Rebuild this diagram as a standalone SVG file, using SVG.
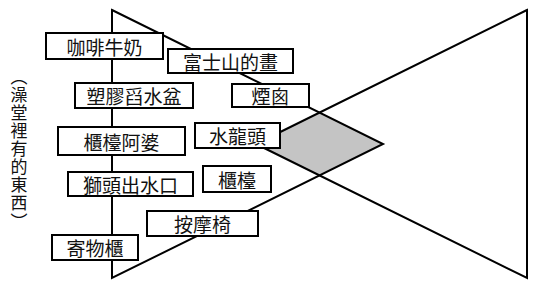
<svg xmlns="http://www.w3.org/2000/svg" width="536" height="292" viewBox="0 0 536 292">
<style>
.box{fill:#fff;stroke:#000;stroke-width:2}
.ln{fill:none;stroke:#000;stroke-width:2;stroke-linejoin:miter}
.t{font-family:"Noto Sans CJK TC","Noto Sans CJK SC",sans-serif;font-size:19px;fill:#111;text-anchor:middle;dominant-baseline:central}
.v{font-family:"Noto Sans CJK TC","Noto Sans CJK SC",sans-serif;font-size:17px;fill:#111;text-anchor:middle;dominant-baseline:central}
</style>
<rect width="536" height="292" fill="#fff"/>
<g id="connectors">
<polygon points="256,144 319,113 383,144 319,175" fill="#c4c4c4" stroke="none"/>
<polygon class="ln" points="112,10 383,144 112,278"/>
<polygon class="ln" points="527,10 256,144 527,278"/>
</g>
<g id="label">
<text class="v" x="19" y="75">︵</text>
<text class="v" x="19" y="93">澡</text>
<text class="v" x="19" y="111">堂</text>
<text class="v" x="19" y="129">裡</text>
<text class="v" x="19" y="147">有</text>
<text class="v" x="19" y="165">的</text>
<text class="v" x="19" y="183">東</text>
<text class="v" x="19" y="201">西</text>
<text class="v" x="19" y="220">︶</text>
</g>
<g id="n1"><rect class="box" x="46" y="33" width="117" height="26"/><text class="t" x="104.5" y="46">咖啡牛奶</text></g>
<g id="n2"><rect class="box" x="168" y="49" width="125" height="24"/><text class="t" x="230.5" y="61">富士山的畫</text></g>
<g id="n3"><rect class="box" x="75" y="83" width="118" height="25"/><text class="t" x="134" y="95.5">塑膠舀水盆</text></g>
<g id="n4"><rect class="box" x="232" y="84" width="77" height="23"/><text class="t" x="270.5" y="95.5">煙囪</text></g>
<g id="n5"><rect class="box" x="58" y="127" width="127" height="28"/><text class="t" x="121.5" y="141">櫃檯阿婆</text></g>
<g id="n6"><rect class="box" x="195" y="123" width="85" height="25"/><text class="t" x="237.5" y="135.5">水龍頭</text></g>
<g id="n7"><rect class="box" x="68" y="172" width="125" height="24"/><text class="t" x="130.5" y="184">獅頭出水口</text></g>
<g id="n8"><rect class="box" x="203" y="166" width="68" height="26"/><text class="t" x="237" y="179">櫃檯</text></g>
<g id="n9"><rect class="box" x="147" y="211" width="111" height="25"/><text class="t" x="202.5" y="223.5">按摩椅</text></g>
<g id="n10"><rect class="box" x="52" y="235" width="86" height="25"/><text class="t" x="95" y="247.5">寄物櫃</text></g>
</svg>
